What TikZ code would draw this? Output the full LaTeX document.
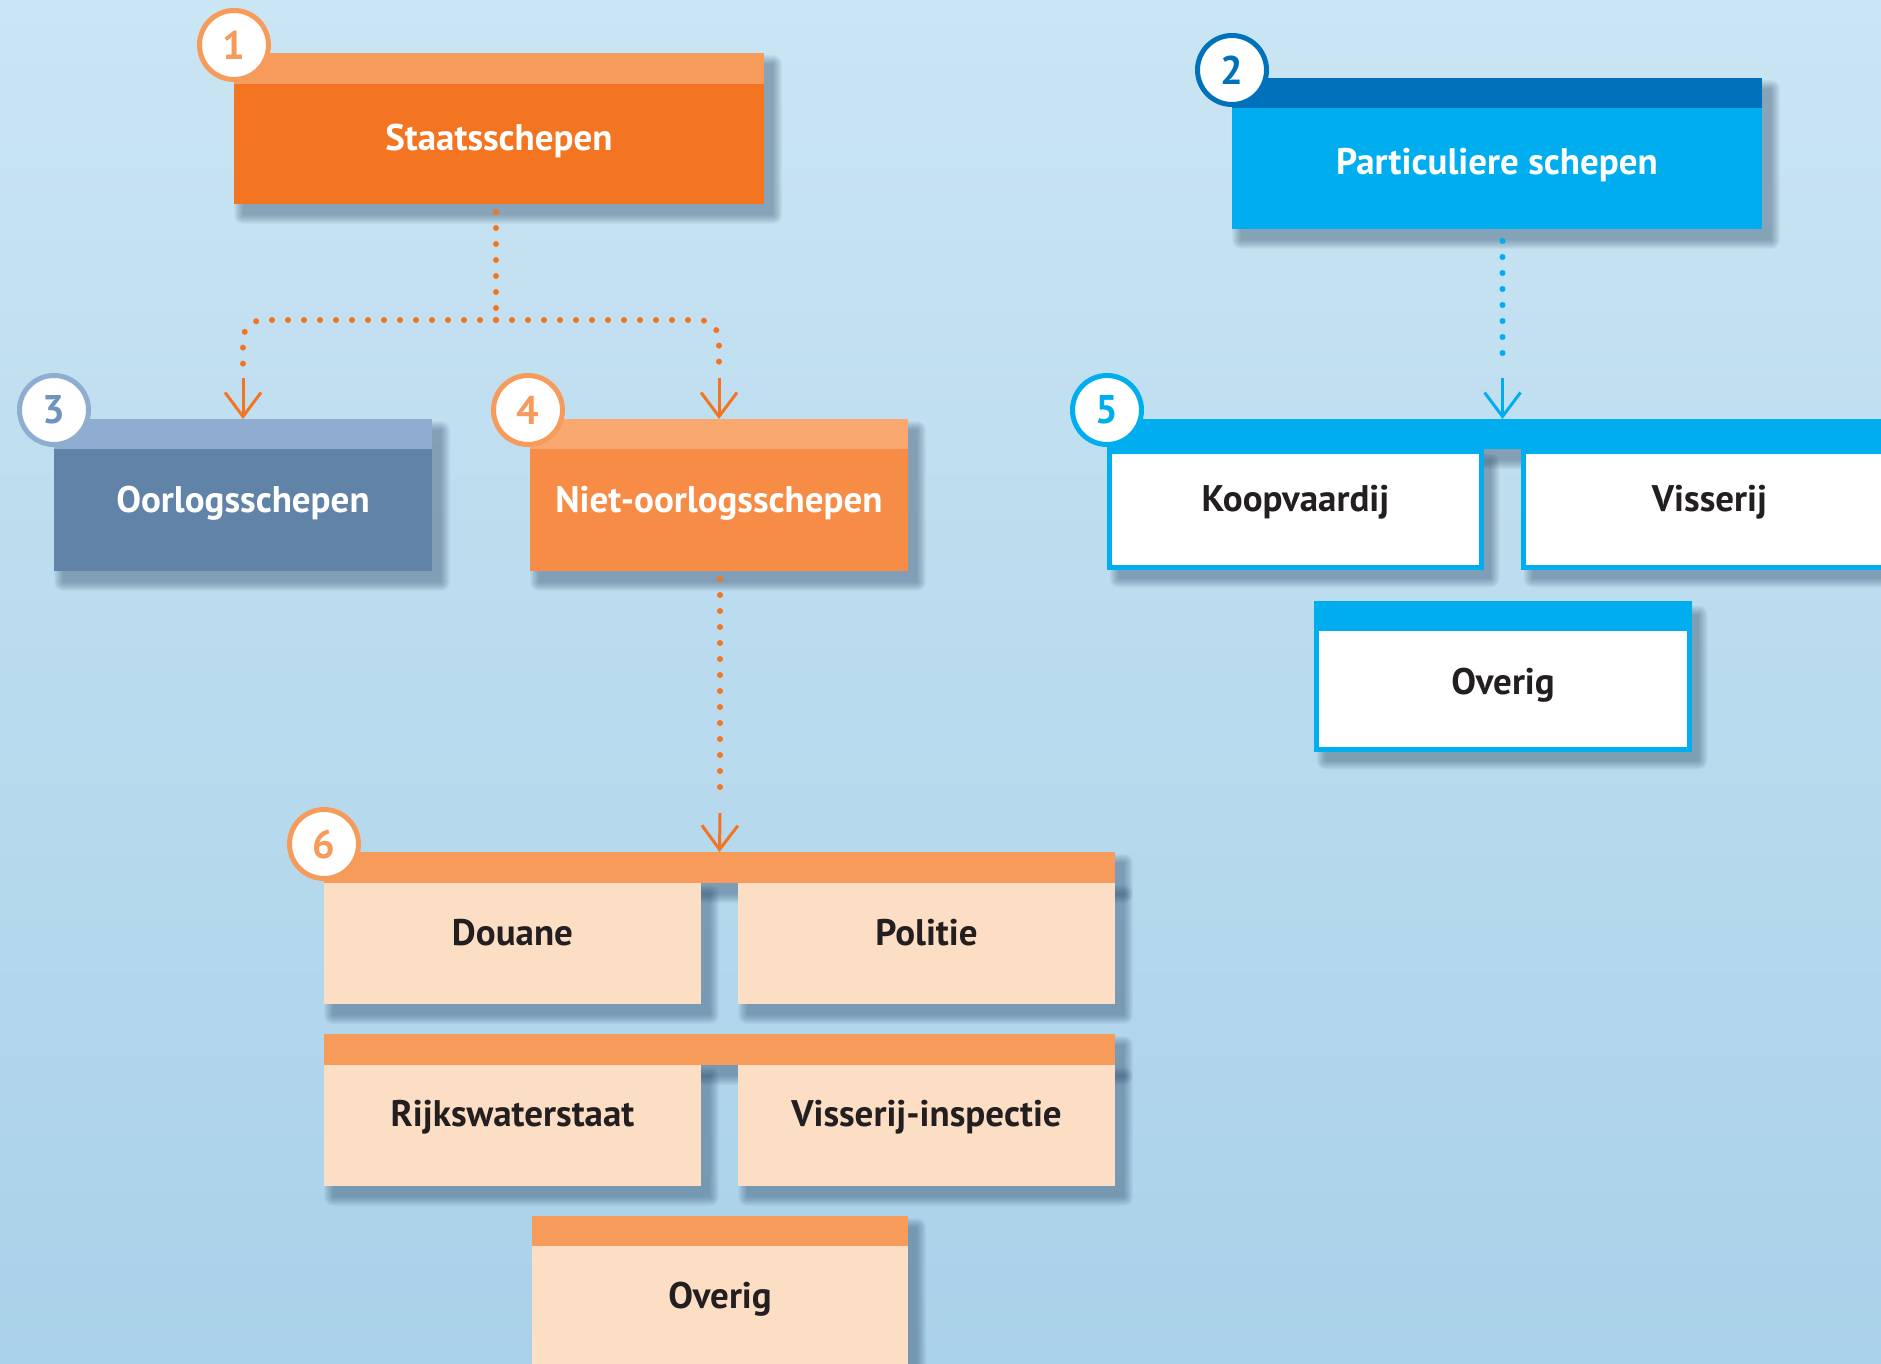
\documentclass[tikz,border=0pt]{standalone}
\usepackage{fontspec}
\setmainfont{PT Sans}
\usetikzlibrary{arrows.meta}
\definecolor{bgT}{HTML}{CAE5F3}
\definecolor{bgB}{HTML}{A9D1E9}
\definecolor{orD}{HTML}{F37421}
\definecolor{orL}{HTML}{F79B5B}
\definecolor{orM}{HTML}{F68C45}
\definecolor{orML}{HTML}{F9A86F}
\definecolor{peach}{HTML}{FCDEC5}
\definecolor{blD}{HTML}{0071BB}
\definecolor{blL}{HTML}{00AEEF}
\definecolor{gbL}{HTML}{8EADD0}
\definecolor{gbD}{HTML}{6083A7}
\definecolor{gbN}{HTML}{6F93BF}
\definecolor{txD}{HTML}{231F20}
\definecolor{shcol}{HTML}{1F3A5A}
\pgfdeclarelayer{shadowlayer}
\pgfsetlayers{shadowlayer,main}
\newcommand\mydropsh[1]{%
  \foreach \k in {0,...,9}{%
    \fill[shcol,opacity=0.045,rounded corners=\k pt]
      ([xshift=9pt-\k pt,yshift=-11pt-\k pt]#1.south west) rectangle
      ([xshift=9pt+\k pt,yshift=-11pt+\k pt]#1.north east);}}
\tikzset{
  blk/.style={rectangle,inner sep=0pt,outer sep=0pt},
  hdr/.style={blk},
  bord/.style={blk,draw=blL,line width=5pt,fill=white},
  lblW/.style={anchor=base,text=white,font=\fontsize{37pt}{42pt}\selectfont\bfseries},
  lblD/.style={anchor=base,text=txD,font=\fontsize{37pt}{42pt}\selectfont\bfseries},
  num/.style={circle,draw=#1,line width=5pt,fill=white,minimum size=69pt,inner sep=0pt,text=#1,font=\fontsize{40pt}{44pt}\selectfont\bfseries},
  dotO/.style={draw=#1,line width=6pt,line cap=round,dash pattern=on 0pt off 16pt},
  arrO/.style={draw=#1,line width=3pt,-{Straight Barb[length=24pt,width=36pt,line width=3pt]}}
}
\begin{document}
\begin{tikzpicture}[x=1pt,y=-1pt]
\useasboundingbox (0,0) rectangle (1881,1364);
\clip (0,0) rectangle (1881,1364);
\begin{pgfonlayer}{shadowlayer}
\shade[top color=bgT,bottom color=bgB] (0,0) rectangle (1881,1364);
\end{pgfonlayer}

% Box 1
\node[blk,fill=orD,minimum width=530pt,minimum height=151pt] (b1) at (499,128.5) {};
\node[hdr,fill=orL,minimum width=530pt,minimum height=31pt] (b1h) at (499,68.5) {};
\node[lblW] (t1) at (499,151) {Staatsschepen};
% Box 2
\node[blk,fill=blL,minimum width=530pt,minimum height=151pt] (b2) at (1497,153.5) {};
\node[hdr,fill=blD,minimum width=530pt,minimum height=30pt] (b2h) at (1497,93) {};
\node[lblW] (t2) at (1497,175) {Particuliere schepen};
% Box 3
\node[blk,fill=gbD,minimum width=378pt,minimum height=152pt] (b3) at (243,495) {};
\node[hdr,fill=gbL,minimum width=378pt,minimum height=30pt] (b3h) at (243,434) {};
\node[lblW] (t3) at (243,512) {Oorlogsschepen};
% Box 4
\node[blk,fill=orM,minimum width=378pt,minimum height=152pt] (b4) at (719,495) {};
\node[hdr,fill=orML,minimum width=378pt,minimum height=30pt] (b4h) at (719,434) {};
\node[lblW] (t4) at (719,512) {Niet-oorlogsschepen};

% Group 5
\node[blk,fill=blL,minimum width=791pt,minimum height=30pt] (g5) at (1502.5,434) {};
\node[bord,minimum width=372pt,minimum height=116pt] (koop) at (1295.5,509.5) {};
\node[bord,minimum width=372pt,minimum height=116pt] (viss) at (1709.5,509.5) {};
\node[lblD] at (1295.5,511) {Koopvaardij};
\node[lblD] at (1709.5,511) {Visserij};
\node[bord,minimum width=373pt,minimum height=146pt] (ov5) at (1503,676.5) {};
\node[hdr,fill=blL,minimum width=378pt,minimum height=30pt] (ov5h) at (1503,616) {};
\node[lblD] at (1503,694) {Overig};

% Group 6
\node[blk,fill=orL,minimum width=791pt,minimum height=31pt] (g6) at (719.5,867.5) {};
\node[blk,fill=peach,minimum width=377pt,minimum height=121pt] (dou) at (512.5,943.5) {};
\node[blk,fill=peach,minimum width=377pt,minimum height=121pt] (pol) at (926.5,943.5) {};
\node[lblD] at (512.5,945) {Douane};
\node[lblD] at (926.5,945) {Politie};
\node[blk,fill=orL,minimum width=791pt,minimum height=31pt] (g6b) at (719.5,1049.5) {};
\node[blk,fill=peach,minimum width=377pt,minimum height=121pt] (rws) at (512.5,1125.5) {};
\node[blk,fill=peach,minimum width=377pt,minimum height=121pt] (vin) at (926.5,1125.5) {};
\node[lblD] at (512.5,1126) {Rijkswaterstaat};
\node[lblD] at (926.5,1126) {Visserij-inspectie};
\node[blk,fill=peach,minimum width=376pt,minimum height=184pt] (ov6) at (720,1308) {};
\node[hdr,fill=orL,minimum width=376pt,minimum height=30pt] (ov6h) at (720,1231) {};
\node[lblD] at (720,1308) {Overig};

% Shadows (drawn beneath the boxes)
\begin{pgfonlayer}{shadowlayer}
\foreach \n in {b1,b2,b3,b4,g5,koop,viss,ov5,g6,dou,pol,g6b,rws,vin,ov6}{\mydropsh{\n}}
\end{pgfonlayer}

% Connectors
\coordinate (j) at (496,320);
\coordinate (d3) at (243,367);
\coordinate (a3) at (243,378);
\coordinate (d4) at (719,367);
\coordinate (a4) at (719,378);
\draw[dotO=orD] ([xshift=-3pt,yshift=-8pt]b1.south) -- (j);
\draw[dotO=orD,rounded corners=20pt] (j) -| (d3);
\draw[dotO=orD,rounded corners=20pt] (j) -| (d4);
\draw[arrO=orD] (a3) -- (b3.north);
\draw[arrO=orD] (a4) -- (b4.north);

\coordinate (d6) at (720,802);
\coordinate (a6) at (720,813);
\draw[dotO=orD] ([xshift=1pt,yshift=-8pt]b4.south) -- (d6);
\draw[arrO=orD] (a6) -- (g6.north);

\coordinate (d5) at (1502.5,368);
\coordinate (a5) at (1502.5,378);
\draw[dotO=blL] ([xshift=5.5pt,yshift=-12pt]b2.south) -- (d5);
\draw[arrO=blL] (a5) -- (g5.north);

% Number circles
\node[num=orL] (n1) at (234,45) {1};
\node[num=blD] (n2) at (1232,70) {2};
\node[num=gbL,text=gbN] (n3) at (54,410) {3};
\node[num=orL] (n4) at (528,410) {4};
\node[num=blL] (n5) at (1107,410) {5};
\node[num=orL] (n6) at (324,844) {6};
\end{tikzpicture}
\end{document}
